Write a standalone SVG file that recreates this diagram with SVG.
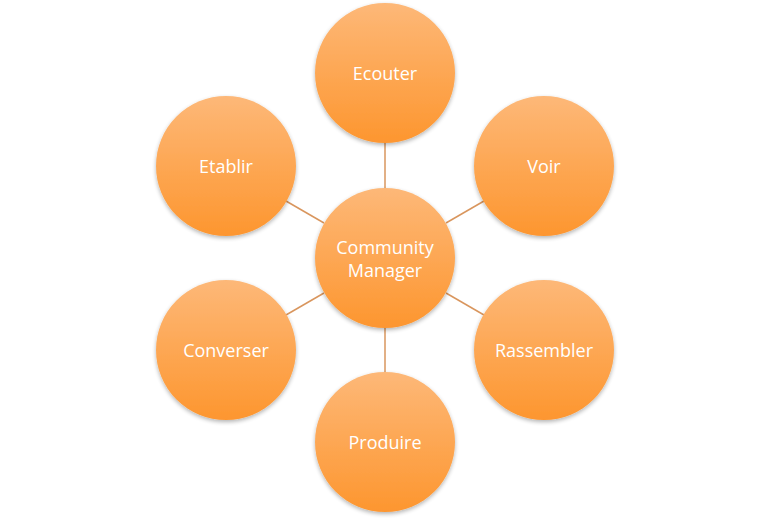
<svg xmlns="http://www.w3.org/2000/svg" width="770" height="521" viewBox="0 0 770 521">
<defs>
<linearGradient id="g" x1="0" y1="0" x2="0" y2="1">
<stop offset="0" stop-color="#FDB878"/>
<stop offset="1" stop-color="#FD962F"/>
</linearGradient>
<filter id="sh" x="-20%" y="-20%" width="140%" height="140%">
<feGaussianBlur in="SourceAlpha" stdDeviation="2"/>
<feOffset dx="0" dy="2" result="b"/>
<feComponentTransfer><feFuncA type="linear" slope="0.3"/></feComponentTransfer>
<feMerge><feMergeNode/><feMergeNode in="SourceGraphic"/></feMerge>
</filter>
</defs>
<style>
.n circle{fill:url(#g);filter:url(#sh)}
.n text{fill:#fff;font-family:"Open Sans","Noto Sans",sans-serif;font-size:18px;text-anchor:middle}
.c line{stroke:#D9965E;stroke-width:1.5}
</style>
<rect width="770" height="521" fill="#fff"/>
<g class="c" id="connectors">
<line x1="385" y1="143" x2="385" y2="188"/>
<line x1="385" y1="328" x2="385" y2="372"/>
<line x1="286" y1="201" x2="324" y2="223"/>
<line x1="484" y1="201" x2="446" y2="223"/>
<line x1="286" y1="315" x2="324" y2="293"/>
<line x1="484" y1="315" x2="446" y2="293"/>
</g>
<g class="n" id="ecouter"><circle cx="385" cy="73" r="70"/><text x="385" y="80">Ecouter</text></g>
<g class="n" id="voir"><circle cx="544" cy="166" r="70"/><text x="544" y="173">Voir</text></g>
<g class="n" id="rassembler"><circle cx="544" cy="350" r="70"/><text x="544" y="357">Rassembler</text></g>
<g class="n" id="produire"><circle cx="385" cy="442" r="70"/><text x="385" y="449">Produire</text></g>
<g class="n" id="converser"><circle cx="226" cy="350" r="70"/><text x="226" y="357">Converser</text></g>
<g class="n" id="etablir"><circle cx="226" cy="166" r="70"/><text x="226" y="173">Etablir</text></g>
<g class="n" id="center"><circle cx="385" cy="258" r="70"/><text x="385" y="254">Community</text><text x="385" y="277">Manager</text></g>
</svg>
